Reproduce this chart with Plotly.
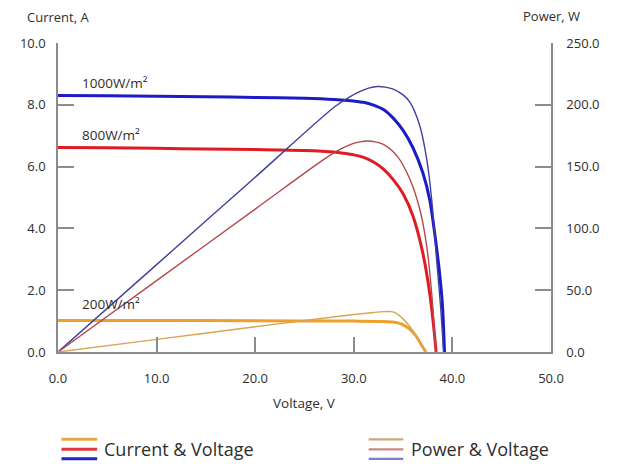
import plotly.graph_objects as go

# ---------------- data ----------------
x_ticks = [0, 10, 20, 30, 40, 50]
y_ticks = [0, 2, 4, 6, 8, 10]
y2_ticks = [0, 50, 100, 150, 200, 250]

irradiance_labels = ["1000W/m²", "800W/m²", "200W/m²"]
label_positions_v = [2.2, 2.2, 2.2]
label_positions_i = [8.70, 7.01, 1.54]

# Current vs voltage
v_i1000 = [0, 5, 10, 15, 20, 25, 28, 30, 31, 32, 33, 34, 35, 36, 37, 37.7, 38.2, 38.7, 39.0, 39.2]
i_1000 = [8.30, 8.29, 8.28, 8.26, 8.24, 8.21, 8.17, 8.12, 8.08, 7.99, 7.85, 7.57, 7.17, 6.61, 5.80, 4.93, 3.85, 2.55, 1.47, 0.0]

v_i800 = [0, 5, 10, 15, 20, 25, 28, 29, 30, 31, 32, 33, 34, 35, 36, 37, 37.7, 38.1, 38.35]
i_800 = [6.62, 6.61, 6.59, 6.57, 6.55, 6.52, 6.47, 6.43, 6.38, 6.30, 6.15, 5.92, 5.58, 5.12, 4.40, 3.20, 1.90, 0.82, 0.0]

v_i200 = [0, 10, 20, 30, 33, 34.0, 34.8, 35.6, 36.3, 36.8, 37.3]
i_200 = [1.02, 1.02, 1.01, 1.00, 0.99, 0.97, 0.91, 0.76, 0.52, 0.26, 0.0]

# Power vs voltage
v_p1000 = [0, 10, 20, 28, 29.5, 30.7, 31.5, 32.4, 33.2, 34.0, 35.0, 35.7, 36.7, 37.4, 37.9, 38.4, 38.8, 39.1]
p_1000 = [0, 70.7, 141.4, 198.0, 206.0, 211.0, 213.5, 214.8, 214.3, 212.7, 208.0, 201.9, 182.9, 155.8, 123.4, 74.7, 36.8, 0]

v_p800 = [0, 10, 20, 27, 28.5, 29.7, 30.6, 31.4, 32.2, 33.0, 34.4, 35.7, 36.7, 37.4, 37.9, 38.15, 38.3]
p_800 = [0, 57.8, 115.6, 156.0, 163.5, 168.0, 170.0, 170.7, 170.0, 168.0, 158.5, 139.6, 115.3, 85.5, 47.6, 20.5, 0]

v_p200 = [0, 10, 20, 25, 30, 32.0, 33.0, 33.6, 34.0, 34.7, 35.7, 36.5, 37.0, 37.3]
p_200 = [0, 10.2, 20.4, 25.5, 30.3, 32.0, 32.7, 32.8, 32.5, 29.0, 20.5, 11.0, 4.0, 0]

# ---------------- styles ----------------
AXIS = "#8c8c8c"
TEXT = "#2e2e2e"
FONT = "Open Sans"

cur_colors = ["#1c1cc6", "#e01b22", "#efa02c"]
pow_colors = ["#40409e", "#b5484f", "#d9a552"]
sw_cur = ["#e8a640", "#e0363c", "#2424cc"]
sw_pow = ["#c9aa78", "#cc8484", "#7c7cd6"]

fig = go.Figure()

for v, i, c in [(v_i1000, i_1000, cur_colors[0]), (v_i800, i_800, cur_colors[1]), (v_i200, i_200, cur_colors[2])]:
    fig.add_trace(go.Scatter(x=v, y=i, mode="lines", yaxis="y",
                             line=dict(color=c, width=3, shape="spline", smoothing=0.8),
                             showlegend=False, hoverinfo="skip"))

for v, p, c in [(v_p1000, p_1000, pow_colors[0]), (v_p800, p_800, pow_colors[1]), (v_p200, p_200, pow_colors[2])]:
    fig.add_trace(go.Scatter(x=v, y=p, mode="lines", yaxis="y2",
                             line=dict(color=c, width=1.4, shape="spline", smoothing=0.8),
                             showlegend=False, hoverinfo="skip"))

# page has an 8px body margin; figure coords = page coords - 8
OFF = 8
W, H = 610, 456
L, R = 53.5 - OFF, 67
T, B = 42.7 - OFF, 112.3
pw = W - L - R
ph = H - T - B

def px(xpage):
    return (xpage - OFF - L) / pw

def py(ypage):
    return (H - B - (ypage - OFF)) / ph

annotations = []
for txt, xv, yv in zip(irradiance_labels, label_positions_v, label_positions_i):
    annotations.append(dict(x=xv, y=yv, xref="x", yref="y", text=txt, showarrow=False,
                            xanchor="left", yanchor="middle", font=dict(size=13.5, color=TEXT, family=FONT)))

annotations += [
    dict(x=0, y=py(16.5), xref="paper", yref="paper", text="Current, A", showarrow=False,
         xanchor="center", yanchor="middle", font=dict(size=13, color=TEXT, family=FONT)),
    dict(x=1, y=py(16), xref="paper", yref="paper", text="Power, W", showarrow=False,
         xanchor="center", yanchor="middle", font=dict(size=13, color=TEXT, family=FONT)),
    dict(x=0.5, y=py(403), xref="paper", yref="paper", text="Voltage, V", showarrow=False,
         xanchor="center", yanchor="middle", font=dict(size=13.5, color=TEXT, family=FONT)),
    dict(x=px(98), y=py(449), xref="paper", yref="paper", text="Current &amp; Voltage", showarrow=False,
         xanchor="left", yanchor="middle", font=dict(size=18, color=TEXT, family=FONT)),
    dict(x=px(408), y=py(449), xref="paper", yref="paper", text="Power &amp; Voltage", showarrow=False,
         xanchor="left", yanchor="middle", font=dict(size=18, color=TEXT, family=FONT)),
]

shapes = []
for yy, c in zip([439, 449, 458.5], sw_cur):
    shapes.append(dict(type="line", xref="paper", yref="paper", x0=px(57), x1=px(93), y0=py(yy), y1=py(yy),
                       line=dict(color=c, width=3)))
for yy, c in zip([439, 449, 458.5], sw_pow):
    shapes.append(dict(type="line", xref="paper", yref="paper", x0=px(367), x1=px(402), y0=py(yy), y1=py(yy),
                       line=dict(color=c, width=2.2)))

tickfont = dict(size=13, color=TEXT, family=FONT)

fig.update_layout(
    width=W, height=H,
    margin=dict(l=L, r=R, t=T, b=B, pad=0),
    paper_bgcolor="white", plot_bgcolor="white",
    showlegend=False,
    annotations=annotations,
    shapes=shapes,
    xaxis=dict(range=[0, 50], tickvals=x_ticks, tickformat=".1f", ticks="inside", ticklen=15,
               tickcolor=AXIS, tickwidth=1.5, showline=True, linecolor=AXIS, linewidth=1.5,
               showgrid=False, zeroline=False, tickfont=tickfont, ticklabelstandoff=14, fixedrange=True),
    yaxis=dict(range=[0, 10], tickvals=y_ticks, tickformat=".1f", ticks="inside", ticklen=16,
               tickcolor=AXIS, tickwidth=1.5, showline=True, linecolor=AXIS, linewidth=1.5,
               showgrid=False, zeroline=False, tickfont=tickfont, ticklabelstandoff=8, fixedrange=True),
    yaxis2=dict(range=[0, 250], tickvals=y2_ticks, tickformat=".1f", ticks="inside", ticklen=16,
                tickcolor=AXIS, tickwidth=1.5, showline=True, linecolor=AXIS, linewidth=1.5,
                showgrid=False, zeroline=False, tickfont=tickfont, ticklabelstandoff=11,
                overlaying="y", side="right", fixedrange=True),
)

fig.write_html("out.html")
